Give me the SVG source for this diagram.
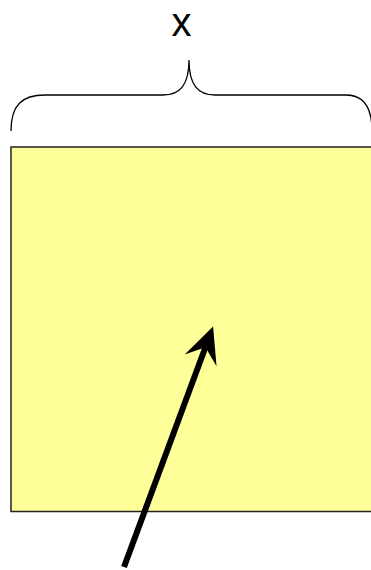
<svg xmlns="http://www.w3.org/2000/svg" width="371" height="570" viewBox="0 0 371 570">
  <style>
    .box { fill: #ffff99; stroke: #222; stroke-width: 1.5; }
    .brace { fill: none; stroke: #000; stroke-width: 1.3; }
    .label { font-family: "Liberation Sans", Arial, sans-serif; font-size: 40px; fill: #000; }
    .conn { fill: none; stroke: #000; stroke-width: 6; }
  </style>
  <defs>
    <marker id="head" markerUnits="userSpaceOnUse" viewBox="0 0 40 40" refX="16" refY="20" markerWidth="40" markerHeight="40" orient="auto">
      <path d="M37,20 L1,3 L15,20 L1,37 Z" fill="#000"/>
    </marker>
  </defs>
  <g id="square">
    <rect class="box" x="11" y="147" width="380" height="364.5"/>
  </g>
  <g id="brace">
    <path class="brace" d="M11,131 C11,105 22,95 45,95 L163,95 C180,95 189,85 189,60 C189,85 198,95 215,95 L346,95 C364,95 372,108 372,131"/>
    <text class="label" x="181.5" y="36.3" text-anchor="middle">x</text>
  </g>
  <g id="connectors">
    <path class="conn" d="M124,567 L205.8,346.3" marker-end="url(#head)"/>
  </g>
</svg>
